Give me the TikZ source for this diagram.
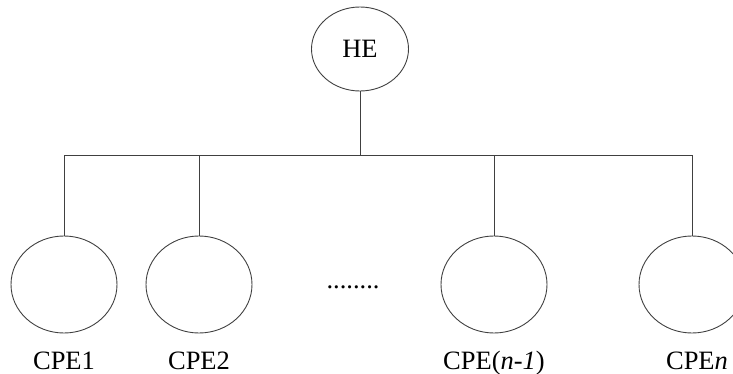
\documentclass[tikz,border=0pt]{standalone}
\usepackage{fontspec}
\setmainfont{Liberation Serif}
\usetikzlibrary{positioning,shapes}
\colorlet{wireColor}{black!75}
\tikzset{%
  % Specifications for style of nodes:
    baseCircle/.style = {ellipse,draw=wireColor,line width=0.9pt,inner sep=0},
    heNode/.style = {baseCircle,minimum width=97pt, minimum height=84pt,font=\fontsize{26.5}{30}\selectfont},
    cpeNode/.style = {baseCircle,minimum width=106pt, minimum height=97pt},
    cpeLabel/.style = {anchor=base,inner sep=0,yshift=-36pt,font=\fontsize{26.5}{30}\selectfont},
    busLine/.style = {draw=wireColor,line width=0.9pt},
}
\begin{document}
\begin{tikzpicture}[x=1pt,y=-1pt]
	\useasboundingbox (0,0) rectangle (733,374);

	\node [heNode] (he) at (360,49) {HE};

	\coordinate (busWest) at (64,155);
	\coordinate (busEast) at (692,155);

	\node [cpeNode] (cpe1) at (64,284.5) {};
	\node [cpeNode] (cpe2) at (199,284.5) {};
	\node [cpeNode] (cpeN1) at (494,284.5) {};
	\node [cpeNode] (cpeN) at (692,284.5) {};

	\node [cpeLabel] (cpe1Label) at (cpe1.south) {CPE1};
	\node [cpeLabel] (cpe2Label) at (cpe2.south) {CPE2};
	\node [cpeLabel] (cpeN1Label) at (cpeN1.south) {CPE(\textit{n}-\textit{1})};
	\node [cpeLabel, xshift=5pt] (cpeNLabel) at (cpeN.south) {CPE\textit{n}};

	\node [anchor=base,inner sep=0,font=\fontsize{26.5}{30}\selectfont] (dots) at (353,288) {........};

	\draw [busLine] (busWest) -- (busEast);
	\draw [busLine] (he.south) -- (he.south |- busWest);
	\draw [busLine] (cpe1.north) -- (cpe1.north |- busWest);
	\draw [busLine] (cpe2.north) -- (cpe2.north |- busWest);
	\draw [busLine] (cpeN1.north) -- (cpeN1.north |- busWest);
	\draw [busLine] (cpeN.north) -- (cpeN.north |- busWest);

\end{tikzpicture}
\end{document}
